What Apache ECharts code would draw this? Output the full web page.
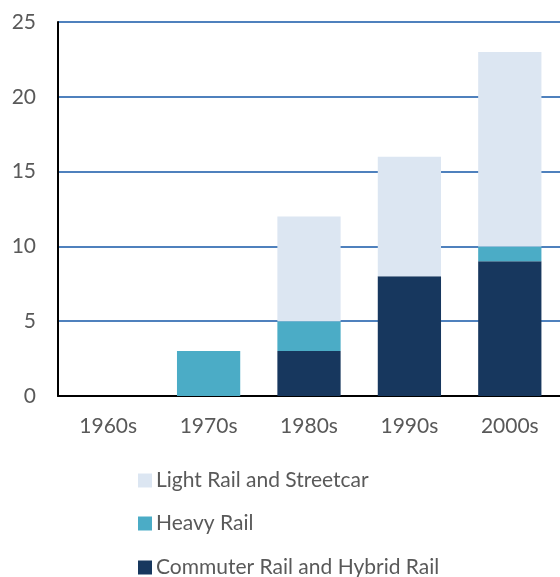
<!DOCTYPE html>
<html>
<head>
<meta charset="utf-8">
<script src="https://cdn.jsdelivr.net/npm/echarts@6/dist/echarts.min.js"></script>
<style>
  html, body { margin: 0; padding: 0; background: #fff; }
  #chart { width: 560px; height: 577px; }
</style>
</head>
<body>
<div id="chart"></div>
<script>
// Rail projects opened per decade, by mode
const decades = ['1960s', '1970s', '1980s', '1990s', '2000s'];
const commuterRail = [0, 0, 3, 8, 9];
const heavyRail = [0, 3, 2, 0, 1];
const lightRail = [0, 0, 7, 8, 13];
const yTicks = [0, 5, 10, 15, 20, 25];
const legendNames = ['Light Rail and Streetcar', 'Heavy Rail', 'Commuter Rail and Hybrid Rail'];

const FONT = 'Lato, "Open Sans", sans-serif';
const TEXT = '#595959';

const chart = echarts.init(document.getElementById('chart'));

function barSeries(name, data, color) {
  return {
    name: name,
    type: 'bar',
    stack: 'total',
    data: data,
    barCategoryGap: '37%',
    itemStyle: { color: color },
    z: 3
  };
}

// one legend block per row so the column never wraps at the bottom edge
const legendTops = [465, 508, 552];
const legends = legendNames.map((name, i) => ({
  orient: 'vertical',
  left: 133,
  top: legendTops[i],
  itemWidth: 14,
  itemHeight: 14,
  icon: 'rect',
  data: [name],
  textStyle: { color: TEXT, fontSize: 21, fontFamily: FONT, padding: [0, 0, 0, -1] }
}));

chart.setOption({
  animation: false,
  textStyle: { fontFamily: FONT },
  grid: { left: 58, right: 0, top: 22, bottom: 181, containLabel: false },
  xAxis: {
    type: 'category',
    data: decades,
    axisLine: { lineStyle: { color: '#000', width: 2 } },
    axisTick: { show: false },
    axisLabel: { color: TEXT, fontSize: 21, fontFamily: FONT, margin: 20 }
  },
  yAxis: {
    type: 'value',
    min: yTicks[0],
    max: yTicks[yTicks.length - 1],
    interval: 5,
    axisLine: { show: true, lineStyle: { color: '#000', width: 2 } },
    axisTick: { show: false },
    axisLabel: { color: TEXT, fontSize: 21, fontFamily: FONT, margin: 22 },
    splitLine: { lineStyle: { color: '#4f81bd', width: 2 } }
  },
  legend: legends,
  series: [
    barSeries('Commuter Rail and Hybrid Rail', commuterRail, '#17375e'),
    barSeries('Heavy Rail', heavyRail, '#4bacc6'),
    barSeries('Light Rail and Streetcar', lightRail, '#dce6f2')
  ]
});
</script>
</body>
</html>
